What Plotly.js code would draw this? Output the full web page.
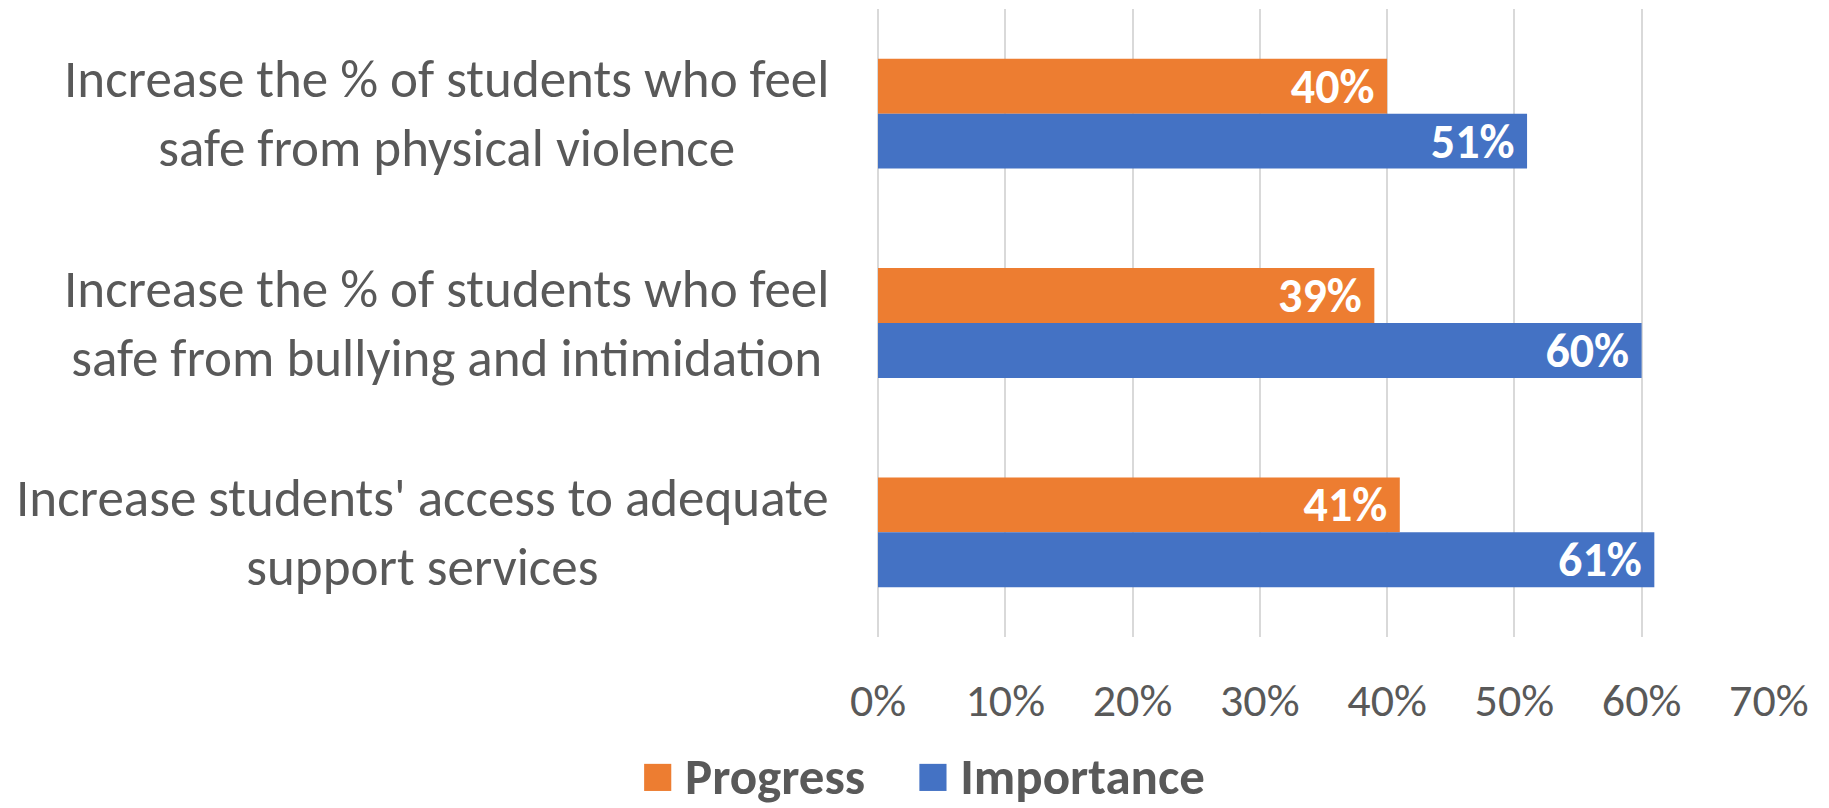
<!DOCTYPE html>
<html>
<head>
<meta charset="utf-8">
<script src="https://cdn.plot.ly/plotly-3.0.1.min.js"></script>
<style>html,body{margin:0;padding:0;background:#fff;}#chart{width:1829px;height:808px;}</style>
</head>
<body>
<div id="chart"></div>
<script>
const categories = [
  "Increase the % of students who feel<br>safe from physical violence",
  "Increase the % of students who feel<br>safe from bullying and intimidation",
  "Increase students' access to adequate<br>support services"
];
const seriesNames = ["Progress", "Importance"];
const progress = [0.40, 0.39, 0.41];
const importance = [0.51, 0.60, 0.61];
const colors = ["#ED7D31", "#4472C4"];
const xTicks = [0, 0.1, 0.2, 0.3, 0.4, 0.5, 0.6, 0.7];

const FONT = "Carlito, Lato, 'Open Sans', sans-serif";
const GREY = "#595959";

const traces = [progress, importance].map((vals, i) => ({
  type: "bar",
  orientation: "h",
  name: seriesNames[i],
  y: categories,
  x: vals,
  marker: {color: colors[i]},
  texttemplate: "%{x:.0%}\u2009",
  textposition: "inside",
  insidetextanchor: "end",
  textangle: 0,
  constraintext: "none",
  textfont: {family: FONT, size: 48, color: "#ffffff", weight: "bold"},
  hoverinfo: "skip",
  showlegend: false
}));

const annotations = categories.map(c => ({
  xref: "paper", yref: "y",
  x: -0.053, y: c,
  xanchor: "right", yanchor: "middle",
  align: "center",
  text: c,
  showarrow: false,
  font: {family: FONT, size: 53, color: GREY}
}));

annotations.push({
  xref: "paper", yref: "paper",
  x: 0.05, y: -0.2205,
  xanchor: "center", yanchor: "middle",
  align: "center",
  showarrow: false,
  borderpad: 0,
  text: seriesNames.map((n, i) => `<span style="color:${colors[i]};font-size:56px">\u25A0</span>\u2009<b>${n}</b>`).join("\u2003"),
  font: {family: FONT, size: 51, color: GREY}
});

const layout = {
  width: 1829, height: 808,
  margin: {l: 878, r: 60, t: 9, b: 171},
  paper_bgcolor: "#ffffff",
  plot_bgcolor: "#ffffff",
  barmode: "group",
  bargap: 0.475,
  bargroupgap: 0,
  xaxis: {
    range: [0, 0.7001],
    tickvals: xTicks,
    tickformat: ".0%",
    showgrid: true,
    gridcolor: "#D9D9D9",
    gridwidth: 2,
    zeroline: true,
    zerolinecolor: "#D9D9D9",
    zerolinewidth: 2,
    showline: false,
    ticks: "",
    ticklabelstandoff: 32,
    tickfont: {family: FONT, size: 46, color: GREY},
    fixedrange: true
  },
  yaxis: {
    autorange: "reversed",
    showticklabels: false,
    showgrid: false,
    zeroline: false,
    showline: false,
    ticks: "",
    fixedrange: true
  },
  annotations: annotations,
  showlegend: false
};

Plotly.newPlot("chart", traces, layout, {displayModeBar: false, staticPlot: true});
</script>
</body>
</html>
